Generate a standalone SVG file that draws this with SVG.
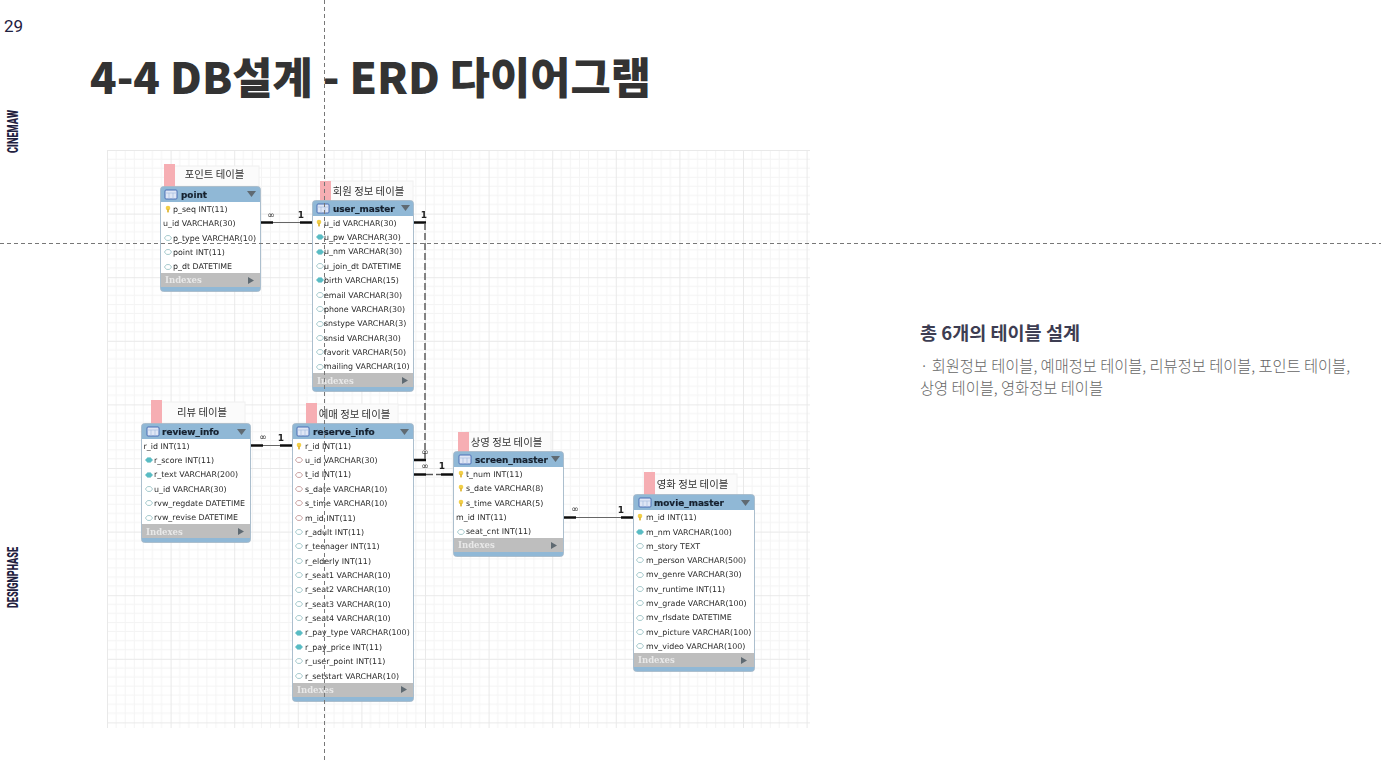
<svg xmlns="http://www.w3.org/2000/svg" width="1381" height="763" viewBox="0 0 1381 763">
<style>
text{font-family:"DejaVu Sans","Noto Sans CJK KR",sans-serif}
.r{font-size:7.9px;fill:#2a2a2a;transform:translateY(-.7px)}
.h{font-size:8.9px;font-weight:bold;fill:#14202e;stroke:#14202e;stroke-width:.2}
.i{font-family:"DejaVu Serif",serif;font-size:8.5px;font-weight:bold;fill:#e8e8e8}
.n{font-family:"Noto Sans CJK KR",sans-serif;font-size:10.4px;fill:#333;text-anchor:middle}
.card{font-size:9px;fill:#222;text-anchor:middle}
.one{font-weight:bold}
.body{fill:#90b8d6;stroke:#a6b8c6;stroke-width:.8}
.white{fill:#fff}
.ix{fill:#bebebe}
.note{fill:#fbfbfb;stroke:#f0f0f0}
.pink{fill:#f6aeb3}
.thick{stroke:#111;stroke-width:2.400;fill:none}
.thin{stroke:#666;stroke-width:1;fill:none}
.tri{fill:#5f6a72}
.page{stroke:#777;stroke-width:1;stroke-dasharray:4 3;fill:none}
</style>
<defs>
<filter id="soft" x="0" y="0" width="100%" height="100%"><feGaussianBlur stdDeviation=".35"/></filter>
<pattern id="grid" x="107" y="150" width="63.6" height="63.6" patternUnits="userSpaceOnUse">
<path d="M9.090 0V63.600M18.170 0V63.600M27.260 0V63.600M36.340 0V63.600M45.430 0V63.600M54.510 0V63.600M0 9.090H63.600M0 18.170H63.600M0 27.260H63.600M0 36.340H63.600M0 45.430H63.600M0 54.510H63.600" stroke="#f4f4f4" stroke-width="1" fill="none"/>
<path d="M.5 0V63.600M0 .5H63.600" stroke="#e9e9e9" stroke-width="1" fill="none"/>
</pattern>
<g id="k"><circle cx="0" cy="-1" r="2.300" fill="#f2cf4a"/><rect x="-.9" y="0" width="1.800" height="3.400" fill="#e0b93a"/></g>
<path id="t" d="M-3.800 0L-1.500 -2.500H1.500L3.800 0L1.500 2.500H-1.500Z" fill="#58bcc4" stroke="#8fcdd2" stroke-width=".5"/>
<path id="o" d="M-3.600 0L-1.500 -2.400H1.500L3.600 0L1.500 2.400H-1.500Z" fill="#fff" stroke="#8fbcc0" stroke-width=".8"/>
<path id="f" d="M-3.600 0L-1.500 -2.400H1.500L3.600 0L1.500 2.400H-1.500Z" fill="#fff" stroke="#bb8c8c" stroke-width=".8"/>
<g id="tb"><rect x="0" y="0" width="12" height="9" rx="1" fill="#dfe6f5" stroke="#4a6fb5"/><path d="M0 3H12M4 3V9M8 3V9" stroke="#a8bce0" stroke-width=".7"/></g>
</defs>
<rect width="1381" height="763" fill="#fff"/>
<rect id="grid-area" x="107" y="150" width="703" height="578" fill="url(#grid)" filter="url(#soft)"/>

<g filter="url(#soft)">
<g id="connectors">
<path class="thin" d="M273 222.500H300"/>
<path class="thick" d="M261 222.500H273M300 222.500H312"/>
<path class="thin" d="M263 445.500H280"/>
<path class="thick" d="M251 445.500H263M280 445.500H292"/>
<path class="thick" d="M414 222.500H426M414 460H426M414 474.500H426M441 474.500H453"/>
<path d="M425 223V459M426 474.500H441" stroke="#555" stroke-width="1.400" stroke-dasharray="7 3" fill="none"/>
<path class="thin" d="M576 517.500H621"/>
<path class="thick" d="M564 517.500H576M621 517.500H633"/>
<text class="card" x="271" y="218">∞</text><text class="card one" x="301" y="218">1</text>
<text class="card one" x="424" y="218">1</text>
<text class="card" x="263" y="440">∞</text><text class="card one" x="281" y="441">1</text>
<text class="card" x="425" y="455">∞</text><text class="card" x="425" y="469">∞</text><text class="card one" x="442" y="469">1</text>
<text class="card" x="575" y="512">∞</text><text class="card one" x="621" y="513">1</text>
</g>

<g id="point">
<rect class="note" x="172" y="166" width="87" height="20"/><rect class="pink" x="164" y="164" width="11" height="23"/>
<rect class="body" x="160.500" y="186.500" width="100" height="105" rx="3"/>
<rect class="white" x="161" y="202" width="99" height="71"/><rect class="ix" x="161" y="273" width="99" height="14"/>
<use href="#tb" x="165" y="190"/><text class="h" x="181" y="198">point</text><path class="tri" d="M247 191H256L251.500 197Z"/>
<use href="#k" x="168" y="209"/><text class="r" x="173" y="212.500">p_seq INT(11)</text>
<text class="r" x="163" y="227">u_id VARCHAR(30)</text>
<use href="#o" x="168" y="238"/><text class="r" x="173" y="241.500">p_type VARCHAR(10)</text>
<use href="#o" x="168" y="252"/><text class="r" x="173" y="256">point INT(11)</text>
<use href="#o" x="168" y="267"/><text class="r" x="173" y="270">p_dt DATETIME</text>
<text class="i" x="165" y="283">Indexes</text><path class="tri" d="M248 277L254 280.500L248 284Z"/>
<text class="n" x="214.500" y="178">포인트 테이블</text>
</g>

<g id="user_master">
<rect class="note" x="328" y="181" width="85" height="20"/><rect class="pink" x="320" y="181" width="11" height="22"/>
<rect class="body" x="312.500" y="200.500" width="101" height="191" rx="3"/>
<rect class="white" x="313" y="216" width="100" height="157"/><rect class="ix" x="313" y="373" width="100" height="14"/>
<use href="#tb" x="317" y="204"/><text class="h" x="333" y="212">user_master</text><path class="tri" d="M401 205H410L405.500 211Z"/>
<use href="#k" x="319" y="223"/><text class="r" x="324" y="226.500">u_id VARCHAR(30)</text>
<use href="#t" x="320" y="237"/><text class="r" x="324" y="241">u_pw VARCHAR(30)</text>
<use href="#t" x="320" y="252"/><text class="r" x="324" y="255">u_nm VARCHAR(30)</text>
<use href="#o" x="320" y="266"/><text class="r" x="324" y="270">u_join_dt DATETIME</text>
<use href="#t" x="320" y="280"/><text class="r" x="324" y="284">birth VARCHAR(15)</text>
<use href="#o" x="320" y="295"/><text class="r" x="324" y="298.500">email VARCHAR(30)</text>
<use href="#o" x="320" y="309"/><text class="r" x="324" y="313">phone VARCHAR(30)</text>
<use href="#o" x="320" y="324"/><text class="r" x="324" y="327">snstype VARCHAR(3)</text>
<use href="#o" x="320" y="338"/><text class="r" x="324" y="341.500">snsid VARCHAR(30)</text>
<use href="#o" x="320" y="352"/><text class="r" x="324" y="356">favorit VARCHAR(50)</text>
<use href="#o" x="320" y="367"/><text class="r" x="324" y="370">mailing VARCHAR(10)</text>
<text class="i" x="317" y="384">Indexes</text><path class="tri" d="M402 377L408 380.500L402 384Z"/>
<text class="n" x="368.500" y="195">회원 정보 테이블</text>
</g>

<g id="review_info">
<rect class="note" x="160" y="402" width="85" height="21"/><rect class="pink" x="151" y="400" width="11" height="24"/>
<rect class="body" x="141.500" y="423.500" width="109" height="119" rx="3"/>
<rect class="white" x="142" y="439" width="108" height="85"/><rect class="ix" x="142" y="524" width="108" height="14"/>
<use href="#tb" x="147" y="427"/><text class="h" x="162" y="435">review_info</text><path class="tri" d="M237 429H246L241.500 435Z"/>
<text class="r" x="143.500" y="449.500">r_id INT(11)</text>
<use href="#t" x="149" y="460"/><text class="r" x="154" y="464">r_score INT(11)</text>
<use href="#t" x="149" y="475"/><text class="r" x="154" y="478">r_text VARCHAR(200)</text>
<use href="#o" x="149" y="489"/><text class="r" x="154" y="493">u_id VARCHAR(30)</text>
<use href="#o" x="149" y="503"/><text class="r" x="154" y="507">rvw_regdate DATETIME</text>
<use href="#o" x="149" y="518"/><text class="r" x="154" y="521">rvw_revise DATETIME</text>
<text class="i" x="146" y="535">Indexes</text><path class="tri" d="M238 528L244 531.500L238 535Z"/>
<text class="n" x="202" y="415.500">리뷰 테이블</text>
</g>

<g id="reserve_info">
<rect class="note" x="314" y="404" width="84" height="20"/><rect class="pink" x="306" y="403" width="11" height="22"/>
<rect class="body" x="292.500" y="423.500" width="121" height="278" rx="3"/>
<rect class="white" x="293" y="439" width="120" height="244"/><rect class="ix" x="293" y="683" width="120" height="14"/>
<use href="#tb" x="297" y="427"/><text class="h" x="313" y="435">reserve_info</text><path class="tri" d="M400 429H409L404.500 435Z"/>
<use href="#k" x="299" y="446"/><text class="r" x="305" y="449.500">r_id INT(11)</text>
<use href="#f" x="299" y="460"/><text class="r" x="305" y="464">u_id VARCHAR(30)</text>
<use href="#f" x="299" y="475"/><text class="r" x="305" y="478">t_id INT(11)</text>
<use href="#f" x="299" y="489"/><text class="r" x="305" y="493">s_date VARCHAR(10)</text>
<use href="#f" x="299" y="503"/><text class="r" x="305" y="507">s_time VARCHAR(10)</text>
<use href="#f" x="299" y="518"/><text class="r" x="305" y="521.500">m_id INT(11)</text>
<use href="#o" x="299" y="532"/><text class="r" x="305" y="536">r_adult INT(11)</text>
<use href="#o" x="299" y="546"/><text class="r" x="305" y="550">r_teenager INT(11)</text>
<use href="#o" x="299" y="561"/><text class="r" x="305" y="564.500">r_elderly INT(11)</text>
<use href="#o" x="299" y="575"/><text class="r" x="305" y="579">r_seat1 VARCHAR(10)</text>
<use href="#o" x="299" y="590"/><text class="r" x="305" y="593">r_seat2 VARCHAR(10)</text>
<use href="#o" x="299" y="604"/><text class="r" x="305" y="607.500">r_seat3 VARCHAR(10)</text>
<use href="#o" x="299" y="618"/><text class="r" x="305" y="622">r_seat4 VARCHAR(10)</text>
<use href="#t" x="299" y="633"/><text class="r" x="305" y="636">r_pay_type VARCHAR(100)</text>
<use href="#t" x="299" y="647"/><text class="r" x="305" y="651">r_pay_price INT(11)</text>
<use href="#o" x="299" y="661"/><text class="r" x="305" y="665">r_user_point INT(11)</text>
<use href="#o" x="299" y="676"/><text class="r" x="305" y="679.500">r_setstart VARCHAR(10)</text>
<text class="i" x="297" y="693">Indexes</text><path class="tri" d="M401 686L407 689.500L401 693Z"/>
<text class="n" x="354.500" y="418">예매 정보 테이블</text>
</g>

<g id="screen_master">
<rect class="note" x="466" y="432" width="85" height="20"/><rect class="pink" x="458" y="432" width="11" height="22"/>
<rect class="body" x="453.500" y="451.500" width="110" height="105" rx="3"/>
<rect class="white" x="454" y="467" width="109" height="71"/><rect class="ix" x="454" y="538" width="109" height="14"/>
<use href="#tb" x="459" y="455"/><text class="h" x="475" y="463">screen_master</text><path class="tri" d="M551 456H560L555.500 462Z"/>
<use href="#k" x="461" y="474"/><text class="r" x="466" y="478">t_num INT(11)</text>
<use href="#k" x="461" y="488"/><text class="r" x="466" y="492">s_date VARCHAR(8)</text>
<use href="#k" x="461" y="503"/><text class="r" x="466" y="506.500">s_time VARCHAR(5)</text>
<text class="r" x="456" y="521">m_id INT(11)</text>
<use href="#o" x="461" y="532"/><text class="r" x="466" y="535">seat_cnt INT(11)</text>
<text class="i" x="458" y="548">Indexes</text><path class="tri" d="M551 542L557 545.500L551 549Z"/>
<text class="n" x="506.500" y="446">상영 정보 테이블</text>
</g>

<g id="movie_master">
<rect class="note" x="652" y="474" width="85" height="21"/><rect class="pink" x="644" y="472" width="11" height="24"/>
<rect class="body" x="633.500" y="494.500" width="121" height="177" rx="3"/>
<rect class="white" x="634" y="510" width="120" height="143"/><rect class="ix" x="634" y="653" width="120" height="14"/>
<use href="#tb" x="639" y="498"/><text class="h" x="654" y="506">movie_master</text><path class="tri" d="M741 500H750L745.500 506Z"/>
<use href="#k" x="640" y="517"/><text class="r" x="646" y="521">m_id INT(11)</text>
<use href="#t" x="640" y="532"/><text class="r" x="646" y="535.500">m_nm VARCHAR(100)</text>
<use href="#o" x="640" y="546"/><text class="r" x="646" y="550">m_story TEXT</text>
<use href="#o" x="640" y="560"/><text class="r" x="646" y="564">m_person VARCHAR(500)</text>
<use href="#o" x="640" y="575"/><text class="r" x="646" y="578">mv_genre VARCHAR(30)</text>
<use href="#o" x="640" y="589"/><text class="r" x="646" y="592.500">mv_runtime INT(11)</text>
<use href="#o" x="640" y="603"/><text class="r" x="646" y="607">mv_grade VARCHAR(100)</text>
<use href="#o" x="640" y="618"/><text class="r" x="646" y="621">mv_rlsdate DATETIME</text>
<use href="#o" x="640" y="632"/><text class="r" x="646" y="636">mv_picture VARCHAR(100)</text>
<use href="#o" x="640" y="646"/><text class="r" x="646" y="650">mv_video VARCHAR(100)</text>
<text class="i" x="638" y="663">Indexes</text><path class="tri" d="M741 657L747 660.500L741 664Z"/>
<text class="n" x="692.500" y="488">영화 정보 테이블</text>
</g>
</g>

<path class="page" d="M324.500 0V763M0 243.500H1381"/>
<text x="4" y="32" style="font-family:Roboto,sans-serif;font-size:17px;fill:#1f2140">29</text>
<text x="90" y="94" textLength="561" lengthAdjust="spacingAndGlyphs" style="font-family:'Noto Sans CJK KR',sans-serif;font-size:43.500px;font-weight:900;fill:#333">4-4 DB설계 - ERD 다이어그램</text>
<text transform="translate(18 153) rotate(-90)" textLength="43" lengthAdjust="spacingAndGlyphs" style="font-family:Roboto,sans-serif;font-size:15px;font-weight:900;fill:#1f2140">CINEMAW</text>
<text transform="translate(18 608) rotate(-90)" textLength="61" lengthAdjust="spacingAndGlyphs" style="font-family:Roboto,sans-serif;font-size:15px;font-weight:900;fill:#1f2140">DESIGNPHASE</text>
<text x="920" y="340" textLength="160" lengthAdjust="spacingAndGlyphs" style="font-family:'Noto Sans CJK KR',sans-serif;font-size:18.500px;font-weight:700;fill:#3d3d52">총 6개의 테이블 설계</text>
<text x="920" y="372" textLength="430" lengthAdjust="spacingAndGlyphs" style="font-family:'Noto Sans CJK KR',sans-serif;font-size:16px;font-weight:300;fill:#666">· 회원정보 테이블, 예매정보 테이블, 리뷰정보 테이블, 포인트 테이블,</text>
<text x="920" y="394" textLength="183" lengthAdjust="spacingAndGlyphs" style="font-family:'Noto Sans CJK KR',sans-serif;font-size:16px;font-weight:300;fill:#666">상영 테이블, 영화정보 테이블</text>
</svg>
